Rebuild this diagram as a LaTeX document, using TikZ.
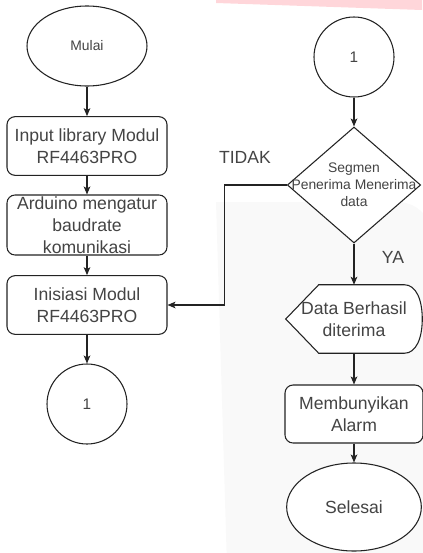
\documentclass[tikz,border=0pt]{standalone}
\usepackage{fontspec}
\setmainfont{Liberation Sans}
\definecolor{linegray}{RGB}{35, 35, 35}
\definecolor{txtgray}{RGB}{68, 68, 68}
\definecolor{bgpink}{RGB}{255, 214, 218}
\definecolor{bggray}{RGB}{249, 249, 249}
\usetikzlibrary{shapes, arrows.meta, positioning, calc, backgrounds}
\newcommand{\boxfont}{\fontsize{13.2}{16.5}\selectfont}
\newcommand{\smallfont}{\fontsize{10.4}{12.6}\selectfont}
\newcommand{\numfont}{\fontsize{11.5}{13.8}\selectfont}

\begin{document}
\begin{tikzpicture}[x=0.75pt, y=-0.75pt,
  terminal/.style={ellipse, draw=linegray, line width=0.8pt, fill=white, text=txtgray, inner sep=0pt},
  process/.style={rectangle, rounded corners=6pt, draw=linegray, line width=0.8pt, fill=white, text=txtgray, align=center, inner sep=0pt, minimum width=120pt, minimum height=44pt, font=\boxfont},
  connector/.style={circle, draw=linegray, line width=0.8pt, fill=white, text=txtgray, minimum size=60pt, inner sep=0pt, font=\numfont},
  decision/.style={diamond, draw=linegray, line width=0.8pt, fill=white, inner sep=0pt, minimum width=100pt, minimum height=87pt},
  boxlabel/.style={text=txtgray, align=center, inner sep=0pt},
  flowlabel/.style={text=txtgray, font=\boxfont, inner sep=0pt},
  flow/.style={draw=linegray, line width=0.8pt, -{Stealth[length=6pt, width=5pt, inset=1.5pt]}}
]
  \useasboundingbox (0,0) rectangle (422,553);

  % Page background
  \begin{scope}[on background layer]
    \fill[bgpink] (216,0) -- (422,0) -- (422,10) -- (216,3) -- cycle;
    \fill[bggray] (216,202) -- (398,202) .. controls (414,202) and (430,214) .. (430,232)
      -- (430,600) -- (228,600) -- cycle;
  \end{scope}

  % Left column
  \node[terminal, minimum width=90pt, minimum height=60pt, font=\smallfont] (mulai) at (87,46) {Mulai};
  \node[process] (input) at (87,146) {Input library Modul\\RF4463PRO};
  \node[process, minimum height=45pt, label={[boxlabel, font=\boxfont]center:Arduino mengatur\\baudrate\\komunikasi}] (baud) at (87,225) {};
  \node[process] (init) at (87,305) {Inisiasi Modul\\RF4463PRO};
  \node[connector] (conleft) at (87,404) {1};

  % Right column
  \node[connector] (conright) at (354,57) {1};
  \node[decision, label={[boxlabel, font=\smallfont]center:Segmen\\Penerima Menerima\\data}] (segmen) at (354,185) {};
  \node[boxlabel, font=\boxfont, minimum width=102pt, minimum height=51pt] (data) at (354,319) {Data Berhasil\\diterima};
  \begin{scope}[on background layer]
    \draw[linegray, line width=0.8pt, fill=white]
      (data.west) -- ($(data.north west)+(33,0)$) -- ($(data.north east)+(-18,0)$)
      .. controls ($(data.north east)+(-6,0)$) and ($(data.east)+(0,-19)$) .. (data.east)
      .. controls ($(data.east)+(0,19)$) and ($(data.south east)+(-6,0)$) .. ($(data.south east)+(-18,0)$)
      -- ($(data.south west)+(33,0)$) -- cycle;
  \end{scope}
  \node[process, minimum width=103.5pt, minimum height=43.5pt] (alarm) at (354,414) {Membunyikan\\Alarm};
  \node[terminal, minimum width=101pt, minimum height=66pt, font=\boxfont] (selesai) at (354,507) {Selesai};

  % Branch labels
  \node[flowlabel] (tidak) at (245,157) {TIDAK};
  \node[flowlabel] (ya) at (393,257) {YA};

  % Arrows
  \draw[flow] (mulai) -- (input);
  \draw[flow] (input) -- (baud);
  \draw[flow] (baud) -- (init);
  \draw[flow] (init) -- (conleft);
  \draw[flow] (conright) -- (segmen);
  \draw[flow] (segmen.west) -- ++(-62,0) |- (init.east);
  \draw[flow] (segmen.south) -- (data.north);
  \draw[flow] (data) -- (alarm);
  \draw[flow] (alarm) -- (selesai);
\end{tikzpicture}
\end{document}
